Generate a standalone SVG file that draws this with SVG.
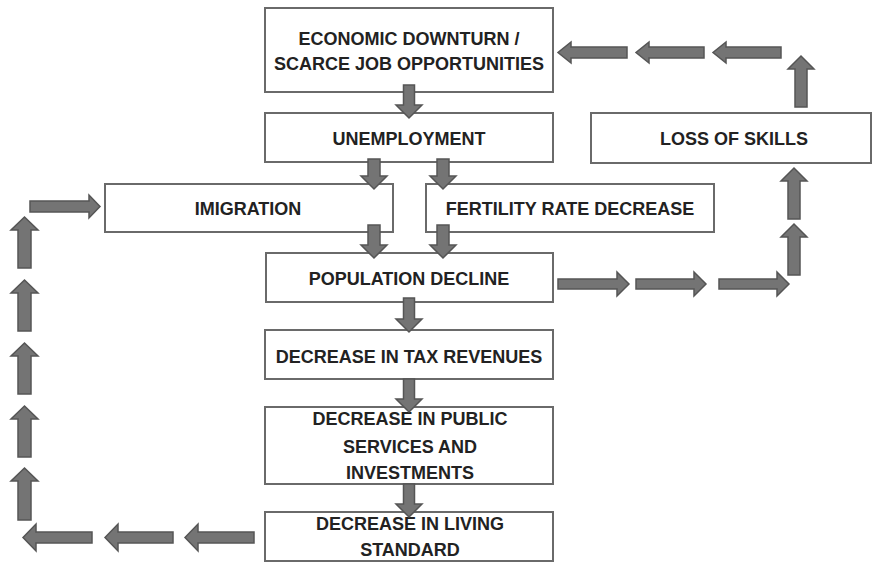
<svg xmlns="http://www.w3.org/2000/svg" width="872" height="563" viewBox="0 0 872 563">
<style>
.box{fill:#fff;stroke:#6a6a6a;stroke-width:2}
.t{font-family:"Liberation Sans",Arial,sans-serif;font-weight:bold;font-size:18px;fill:#222;text-anchor:middle}
.ar{fill:#747474;stroke:#555;stroke-width:1.5;stroke-linejoin:miter}
</style>
<rect width="872" height="563" fill="#fff"/>
<g id="economic-downturn"><rect class="box" x="265" y="8" width="288" height="84"/><text class="t" x="409" y="45">ECONOMIC DOWNTURN /</text><text class="t" x="409" y="70">SCARCE JOB OPPORTUNITIES</text></g>
<g id="unemployment"><rect class="box" x="265" y="113" width="288" height="49"/><text class="t" x="409" y="145">UNEMPLOYMENT</text></g>
<g id="loss-of-skills"><rect class="box" x="591" y="113" width="280" height="50"/><text class="t" x="734" y="145">LOSS OF SKILLS</text></g>
<g id="imigration"><rect class="box" x="105" y="184" width="288" height="48"/><text class="t" x="248" y="215">IMIGRATION</text></g>
<g id="fertility"><rect class="box" x="426" y="184" width="288" height="48"/><text class="t" x="570" y="215">FERTILITY RATE DECREASE</text></g>
<g id="population-decline"><rect class="box" x="266" y="253" width="287" height="49"/><text class="t" x="409" y="285">POPULATION DECLINE</text></g>
<g id="tax-revenues"><rect class="box" x="265" y="330" width="288" height="49"/><text class="t" x="409" y="363">DECREASE IN TAX REVENUES</text></g>
<g id="public-services"><rect class="box" x="265" y="407" width="288" height="77"/><text class="t" x="410" y="425">DECREASE IN PUBLIC</text><text class="t" x="410" y="453">SERVICES AND</text><text class="t" x="410" y="479">INVESTMENTS</text></g>
<g id="living-standard"><rect class="box" x="265" y="512" width="288" height="49"/><text class="t" x="410" y="530">DECREASE IN LIVING</text><text class="t" x="410" y="556">STANDARD</text></g>
<g id="connectors">
<path class="ar" d="M403.5,85 H414.5 V105 H422 L409,118 L396,105 H403.5 Z"/>
<path class="ar" d="M368,159 H380 V176 H387 L374,189 L361,176 H368 Z"/>
<path class="ar" d="M437,159 H449 V176 H456 L443,189 L430,176 H437 Z"/>
<path class="ar" d="M368,225 H380 V245 H387 L374,258 L361,245 H368 Z"/>
<path class="ar" d="M437,225 H449 V245 H456 L443,258 L430,245 H437 Z"/>
<path class="ar" d="M403.5,298 H414.5 V319 H422 L409,332 L396,319 H403.5 Z"/>
<path class="ar" d="M403.5,379 H414.5 V399 H422 L409,412 L396,399 H403.5 Z"/>
<path class="ar" d="M403.5,484 H414.5 V504 H422 L409,517 L396,504 H403.5 Z"/>
<path class="ar" d="M558,279 H617 V272 L629,284 L617,296 V289 H558 Z"/>
<path class="ar" d="M636,279 H694 V272 L706,284 L694,296 V289 H636 Z"/>
<path class="ar" d="M719,279 H777 V272 L789,284 L777,296 V289 H719 Z"/>
<path class="ar" d="M788,275 V237 H781 L794,224 L807,237 H800 V275 Z"/>
<path class="ar" d="M788,219 V181 H781 L794,168 L807,181 H800 V219 Z"/>
<path class="ar" d="M795,107 V69 H788 L801,56 L814,69 H807 V107 Z"/>
<path class="ar" d="M781,47 H726 V42 L713,52.5 L726,63 V58 H781 Z"/>
<path class="ar" d="M704,47 H649 V42 L636,52.5 L649,63 V58 H704 Z"/>
<path class="ar" d="M627,47 H571 V42 L558,52.5 L571,63 V58 H627 Z"/>
<path class="ar" d="M92,532 H36 V524 L23,537.5 L36,551 V543 H92 Z"/>
<path class="ar" d="M173,532 H118 V524 L105,537.5 L118,551 V543 H173 Z"/>
<path class="ar" d="M254,532 H198 V524 L185,537.5 L198,551 V543 H254 Z"/>
<path class="ar" d="M18,520 V481 H11 L24.5,468 L38,481 H31 V520 Z"/>
<path class="ar" d="M18,457 V419 H11 L24.5,406 L38,419 H31 V457 Z"/>
<path class="ar" d="M18,394 V356 H11 L24.5,343 L38,356 H31 V394 Z"/>
<path class="ar" d="M18,331 V293 H11 L24.5,280 L38,293 H31 V331 Z"/>
<path class="ar" d="M18,268 V230 H11 L24.5,217 L38,230 H31 V268 Z"/>
<path class="ar" d="M30,201 H89 V195 L100,206.5 L89,218 V212 H30 Z"/>
</g>
</svg>
